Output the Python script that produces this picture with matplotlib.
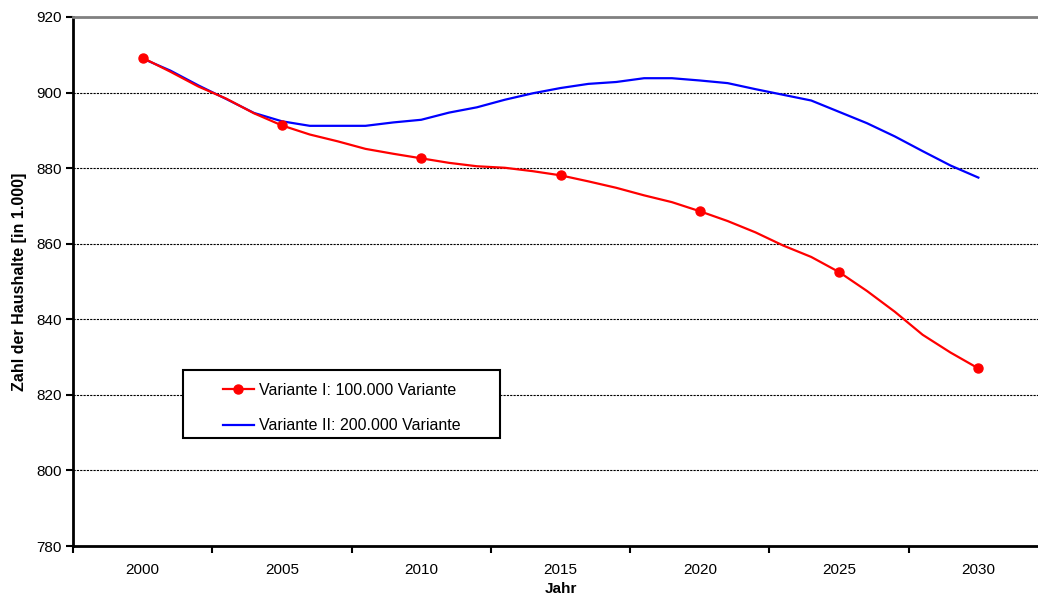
import matplotlib.pyplot as plt
from matplotlib.patches import Rectangle
from matplotlib.ticker import MultipleLocator

plt.rcParams['font.family'] = ['Liberation Sans', 'DejaVu Sans']

years = list(range(2000, 2031))
# Variante I: 100.000 Variante
variante_1 = [909.2, 905.5, 901.6, 898.4, 894.5, 891.3, 888.9, 887.1, 885.1, 883.8,
              882.6, 881.4, 880.5, 880.1, 879.2, 878.1, 876.5, 874.8, 872.8, 871.0,
              868.6, 866.0, 863.0, 859.5, 856.5, 852.5, 847.5, 842.0, 835.9, 831.2,
              827.0]
# Variante II: 200.000 Variante
variante_2 = [909.0, 905.8, 901.9, 898.3, 894.6, 892.4, 891.2, 891.2, 891.2, 892.1,
              892.8, 894.7, 896.1, 898.1, 899.8, 901.2, 902.3, 902.8, 903.8, 903.8,
              903.2, 902.5, 900.9, 899.4, 897.9, 894.9, 891.9, 888.4, 884.5, 880.7,
              877.5]
labels = ['Variante I: 100.000 Variante', 'Variante II: 200.000 Variante']

fig = plt.figure(figsize=(10.38, 6.05), dpi=100)
ax = fig.add_axes([73 / 1038, 59 / 605, 975 / 1038, 529 / 605])

ax.plot(years, variante_2, color='#0000ff', lw=1.6, zorder=3, label=labels[1])
ax.plot(years, variante_1, color='#ff0000', lw=1.6, marker='o', markersize=6.5,
        markevery=5, zorder=3.5, label=labels[0])

ax.set_xlim(1997.5, 2032.5)
ax.set_ylim(780, 920)
ax.yaxis.set_major_locator(MultipleLocator(20))
ax.set_xticks(range(2000, 2031, 5))
ax.set_xticks([1997.5 + 5 * i for i in range(8)], minor=True)
ax.tick_params(axis='x', which='major', length=0, pad=12, labelsize=11)
ax.tick_params(axis='x', which='minor', length=5, width=1.5, direction='out')
ax.tick_params(axis='y', length=5, width=1.5, direction='out', labelsize=11, pad=3)

ax.grid(axis='y', color='black', linestyle=(0, (2, 1)), linewidth=0.8, zorder=1)
ax.set_axisbelow(True)
for s in ['left', 'bottom']:
    ax.spines[s].set_linewidth(2)
ax.spines['top'].set_color('#808080')
ax.spines['top'].set_linewidth(2)
ax.spines['right'].set_visible(False)

ax.set_xlabel('Jahr', fontsize=11, fontweight='bold', labelpad=4)
ax.set_ylabel('Zahl der Haushalte [in 1.000]', fontsize=11.5, fontweight='bold', labelpad=7)

box = Rectangle((0.113, 0.204), 0.325, 0.1285, transform=ax.transAxes,
                facecolor='white', edgecolor='black', lw=1.5, zorder=4.5)
ax.add_patch(box)
handles, labs = ax.get_legend_handles_labels()
leg = ax.legend(handles[::-1], labs[::-1], loc='center', bbox_to_anchor=(0.2754, 0.261),
                frameon=False, fontsize=11.5, numpoints=1, handlelength=1.95,
                handletextpad=0.3, labelspacing=1.3, borderaxespad=0)
leg.set_zorder(5)

fig.savefig('out.png', dpi=100)
